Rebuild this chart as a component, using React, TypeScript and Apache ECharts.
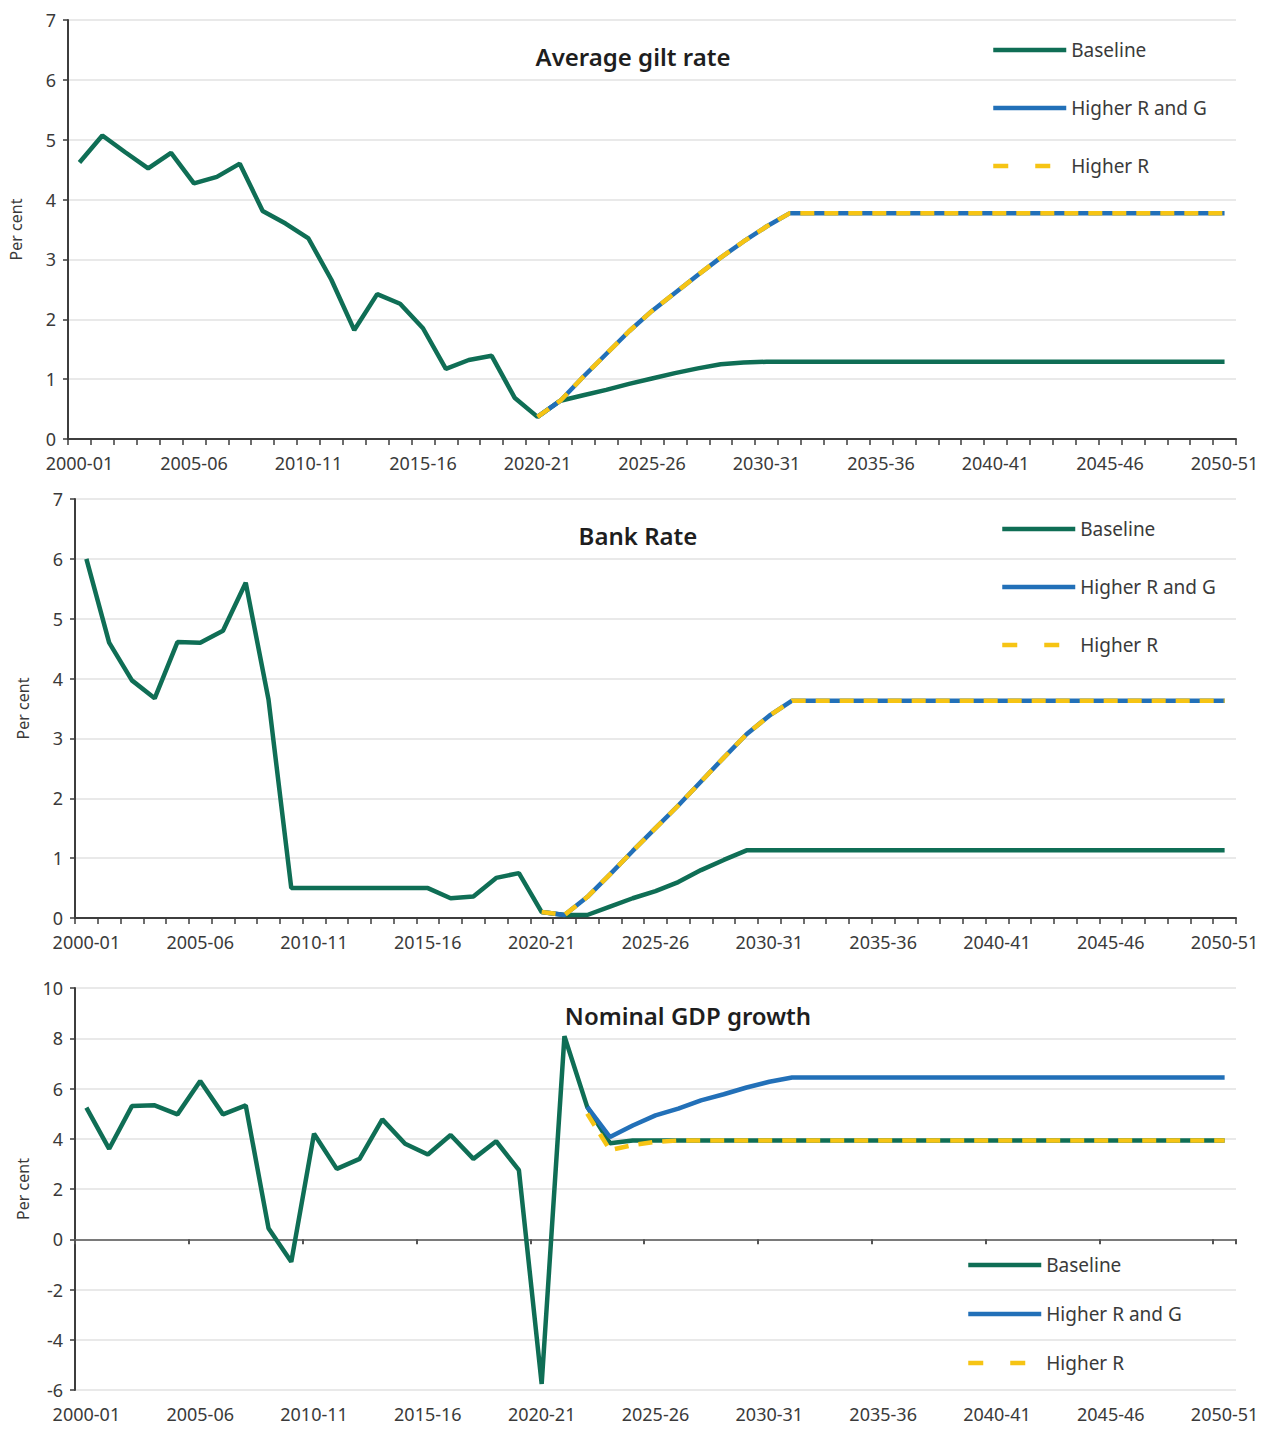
import React, { useEffect, useRef } from 'react';
import * as echarts from 'echarts';

const categories = [
  '2000-01', '2001-02', '2002-03', '2003-04', '2004-05', '2005-06', '2006-07', '2007-08', '2008-09', '2009-10',
  '2010-11', '2011-12', '2012-13', '2013-14', '2014-15', '2015-16', '2016-17', '2017-18', '2018-19', '2019-20',
  '2020-21', '2021-22', '2022-23', '2023-24', '2024-25', '2025-26', '2026-27', '2027-28', '2028-29', '2029-30',
  '2030-31', '2031-32', '2032-33', '2033-34', '2034-35', '2035-36', '2036-37', '2037-38', '2038-39', '2039-40',
  '2040-41', '2041-42', '2042-43', '2043-44', '2044-45', '2045-46', '2046-47', '2047-48', '2048-49', '2049-50',
  '2050-51',
];

const seriesNames = ['Baseline', 'Higher R and G', 'Higher R'];
const panelTitles = ['Average gilt rate', 'Bank Rate', 'Nominal GDP growth'];

// Panel 1: average gilt rate (per cent)
const giltBaseline = [
  4.62, 5.07, 4.79, 4.52, 4.78, 4.27, 4.38, 4.6, 3.81, 3.6,
  3.35, 2.66, 1.82, 2.42, 2.26, 1.85, 1.17, 1.32, 1.39, 0.69,
  0.37, 0.64, 0.73, 0.82, 0.92, 1.01, 1.1, 1.18, 1.25, 1.28,
  1.29, 1.29, 1.29, 1.29, 1.29, 1.29, 1.29, 1.29, 1.29, 1.29,
  1.29, 1.29, 1.29, 1.29, 1.29, 1.29, 1.29, 1.29, 1.29, 1.29,
  1.29,
];
const giltHigherRG = [
  null, null, null, null, null, null, null, null, null, null,
  null, null, null, null, null, null, null, null, null, null,
  0.37, 0.64, 1.04, 1.42, 1.8, 2.14, 2.44, 2.74, 3.03, 3.3,
  3.55, 3.77, 3.77, 3.77, 3.77, 3.77, 3.77, 3.77, 3.77, 3.77,
  3.77, 3.77, 3.77, 3.77, 3.77, 3.77, 3.77, 3.77, 3.77, 3.77,
  3.77,
];
const giltHigherR = [
  null, null, null, null, null, null, null, null, null, null,
  null, null, null, null, null, null, null, null, null, null,
  0.37, 0.64, 1.04, 1.42, 1.8, 2.14, 2.44, 2.74, 3.03, 3.3,
  3.55, 3.77, 3.77, 3.77, 3.77, 3.77, 3.77, 3.77, 3.77, 3.77,
  3.77, 3.77, 3.77, 3.77, 3.77, 3.77, 3.77, 3.77, 3.77, 3.77,
  3.77,
];

// Panel 2: Bank Rate (per cent)
const bankBaseline = [
  6.0, 4.6, 3.97, 3.67, 4.61, 4.6, 4.8, 5.6, 3.65, 0.5,
  0.5, 0.5, 0.5, 0.5, 0.5, 0.5, 0.33, 0.36, 0.67, 0.75,
  0.1, 0.05, 0.05, 0.19, 0.33, 0.45, 0.6, 0.8, 0.97, 1.13,
  1.13, 1.13, 1.13, 1.13, 1.13, 1.13, 1.13, 1.13, 1.13, 1.13,
  1.13, 1.13, 1.13, 1.13, 1.13, 1.13, 1.13, 1.13, 1.13, 1.13,
  1.13,
];
const bankHigherRG = [
  null, null, null, null, null, null, null, null, null, null,
  null, null, null, null, null, null, null, null, null, null,
  0.1, 0.05, 0.35, 0.73, 1.12, 1.5, 1.88, 2.28, 2.68, 3.07,
  3.38, 3.63, 3.63, 3.63, 3.63, 3.63, 3.63, 3.63, 3.63, 3.63,
  3.63, 3.63, 3.63, 3.63, 3.63, 3.63, 3.63, 3.63, 3.63, 3.63,
  3.63,
];
const bankHigherR = [
  null, null, null, null, null, null, null, null, null, null,
  null, null, null, null, null, null, null, null, null, null,
  0.1, 0.05, 0.35, 0.73, 1.12, 1.5, 1.88, 2.28, 2.68, 3.07,
  3.38, 3.63, 3.63, 3.63, 3.63, 3.63, 3.63, 3.63, 3.63, 3.63,
  3.63, 3.63, 3.63, 3.63, 3.63, 3.63, 3.63, 3.63, 3.63, 3.63,
  3.63,
];

// Panel 3: nominal GDP growth (per cent)
const gdpBaseline = [
  5.24, 3.6, 5.3, 5.33, 4.97, 6.3, 4.97, 5.33, 0.44, -0.9,
  4.2, 2.8, 3.2, 4.77, 3.8, 3.37, 4.15, 3.2, 3.9, 2.75,
  -5.76, 8.08, 5.27, 3.82, 3.93, 3.93, 3.93, 3.93, 3.93, 3.93,
  3.93, 3.93, 3.93, 3.93, 3.93, 3.93, 3.93, 3.93, 3.93, 3.93,
  3.93, 3.93, 3.93, 3.93, 3.93, 3.93, 3.93, 3.93, 3.93, 3.93,
  3.93,
];
const gdpHigherRG = [
  null, null, null, null, null, null, null, null, null, null,
  null, null, null, null, null, null, null, null, null, null,
  null, null, 5.27, 4.07, 4.53, 4.93, 5.2, 5.53, 5.77, 6.04,
  6.27, 6.44, 6.44, 6.44, 6.44, 6.44, 6.44, 6.44, 6.44, 6.44,
  6.44, 6.44, 6.44, 6.44, 6.44, 6.44, 6.44, 6.44, 6.44, 6.44,
  6.44,
];
const gdpHigherR = [
  null, null, null, null, null, null, null, null, null, null,
  null, null, null, null, null, null, null, null, null, null,
  null, null, 5.0, 3.55, 3.75, 3.88, 3.93, 3.93, 3.93, 3.93,
  3.93, 3.93, 3.93, 3.93, 3.93, 3.93, 3.93, 3.93, 3.93, 3.93,
  3.93, 3.93, 3.93, 3.93, 3.93, 3.93, 3.93, 3.93, 3.93, 3.93,
  3.93,
];

const yMins = [0, 0, -6];
const yMaxs = [7, 7, 10];
const yIntervals = [1, 1, 2];

const GREEN = '#0f6e55';
const BLUE = '#2270b8';
const YELLOW = '#f6c414';
const AXIS = '#3d3d3d';
const TEXT = '#3a3a3a';
const FONT = '"Noto Sans", Lato, sans-serif';

export default function App() {
  const ref = useRef<HTMLDivElement>(null);

  useEffect(() => {
    if (!ref.current) return;
    const chart = echarts.init(ref.current, null, { renderer: 'svg' });

    const grids = [
      { left: 68, top: 20, width: 1168, height: 419 },
      { left: 75, top: 499, width: 1161, height: 419 },
      { left: 75, top: 988, width: 1161, height: 402 },
    ];

    const panelData = [
      [giltBaseline, giltHigherRG, giltHigherR],
      [bankBaseline, bankHigherRG, bankHigherR],
      [gdpBaseline, gdpHigherRG, gdpHigherR],
    ];

    const labelStyle = { color: TEXT, fontSize: 18, fontFamily: FONT };

    const xAxes: any[] = [];
    for (let p = 0; p < 2; p++) {
      xAxes.push({
        gridIndex: p,
        type: 'category',
        data: categories,
        boundaryGap: true,
        axisLine: { show: true, onZero: false, lineStyle: { color: AXIS, width: 2 } },
        axisTick: { show: true, interval: 0, length: 6, lineStyle: { color: AXIS, width: 1.5 } },
        axisLabel: { ...labelStyle, interval: 4, margin: 15 },
        splitLine: { show: false },
      });
    }
    xAxes.push({
      gridIndex: 2,
      type: 'category',
      data: categories,
      boundaryGap: true,
      axisLine: { show: false, onZero: false },
      axisTick: { show: false },
      axisLabel: { ...labelStyle, interval: 4, margin: 15 },
      splitLine: { show: false },
    });
    xAxes.push({
      gridIndex: 2,
      type: 'category',
      data: categories,
      boundaryGap: true,
      position: 'bottom',
      axisLine: { show: true, onZero: true, lineStyle: { color: '#7a7a7a', width: 2 } },
      axisTick: { show: true, interval: 4, length: 5, lineStyle: { color: '#555', width: 2 } },
      axisLabel: { show: false },
      splitLine: { show: false },
    });

    const yAxes = [0, 1, 2].map((p) => ({
      gridIndex: p,
      type: 'value',
      min: yMins[p],
      max: yMaxs[p],
      interval: yIntervals[p],
      name: 'Per cent',
      nameLocation: 'middle',
      nameGap: 44,
      nameRotate: 90,
      nameTextStyle: { color: TEXT, fontSize: 16, fontFamily: FONT },
      axisLine: { show: true, lineStyle: { color: AXIS, width: 2 } },
      axisTick: { show: true, length: 5, lineStyle: { color: AXIS, width: 1.5 } },
      axisLabel: { ...labelStyle, margin: 12 },
      splitLine: { show: true, lineStyle: { color: '#e2e2e2', width: 1.5 } },
    }));

    const series: any[] = [];
    for (let p = 0; p < 3; p++) {
      const [b, rg, r] = panelData[p];
      series.push({
        type: 'line',
        name: seriesNames[0],
        xAxisIndex: p,
        yAxisIndex: p,
        data: b,
        symbol: 'none',
        z: 3,
        lineStyle: { color: GREEN, width: 4.5 },
        itemStyle: { color: GREEN },
      });
      series.push({
        type: 'line',
        name: seriesNames[1],
        xAxisIndex: p,
        yAxisIndex: p,
        data: rg,
        symbol: 'none',
        z: 4,
        lineStyle: { color: BLUE, width: 4.5 },
        itemStyle: { color: BLUE },
      });
      series.push({
        type: 'line',
        name: seriesNames[2],
        xAxisIndex: p,
        yAxisIndex: p,
        data: r,
        symbol: 'none',
        z: 5,
        lineStyle: { color: YELLOW, width: 4.5, type: [14, 10] },
        itemStyle: { color: YELLOW },
      });
    }

    const legendPos = [
      { left: 991, top: 40, gap: 38 },
      { left: 1000, top: 519, gap: 38 },
      { left: 966, top: 1255, gap: 29 },
    ];
    const legends = legendPos.map((lp) => ({
      orient: 'vertical',
      left: lp.left,
      top: lp.top,
      padding: 0,
      itemWidth: 73,
      itemHeight: 20,
      itemGap: lp.gap,
      itemStyle: { opacity: 0 },
      lineStyle: { width: 4.5 },
      textStyle: { color: TEXT, fontSize: 19, fontFamily: FONT, lineHeight: 20 },
      data: [
        { name: seriesNames[0] },
        { name: seriesNames[1] },
        { name: seriesNames[2], lineStyle: { type: [15, 27], width: 4.5 } },
      ],
    }));

    const titlePos = [
      { x: 633, y: 56 },
      { x: 638, y: 535 },
      { x: 688, y: 1015 },
    ];
    const graphics = titlePos.map((tp, i) => ({
      type: 'text',
      x: tp.x,
      y: tp.y,
      z: 10,
      style: {
        text: panelTitles[i],
        fill: '#1e1e1e',
        font: `600 24px ${FONT}`,
        align: 'center',
        verticalAlign: 'middle',
      },
    }));

    chart.setOption({
      animation: false,
      backgroundColor: '#ffffff',
      grid: grids,
      xAxis: xAxes,
      yAxis: yAxes,
      legend: legends,
      graphic: graphics,
      series,
    });

    return () => chart.dispose();
  }, []);

  return (
    <div
      ref={ref}
      style={{ position: 'absolute', left: 0, top: 0, width: 1271, height: 1429 }}
    />
  );
}
